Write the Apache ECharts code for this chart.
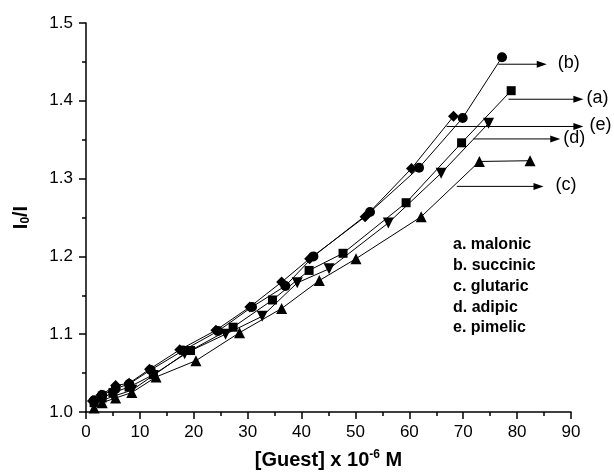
<!doctype html>
<html lang="en">
<head>
  <meta charset="utf-8">
  <title>I0/I vs Guest</title>
  <script src="https://cdn.jsdelivr.net/npm/echarts@6/dist/echarts.min.js"></script>
  <style>
    html, body { margin: 0; padding: 0; background: #fff; }
    #chart { width: 614px; height: 472px; }
  </style>
</head>
<body>
  <div id="chart"></div>
  <script>
    // [Guest] (x10^-6 M), I0/I
    var malonic = [[1.5,1.012],[3,1.018],[5,1.025],[8,1.032],[12.5,1.048],[19.4,1.079],[27.3,1.109],[34.6,1.144],[41.4,1.182],[47.7,1.204],[59.4,1.269],[69.7,1.346],[78.9,1.413]];
    var succinic = [[1.5,1.015],[3,1.022],[5.5,1.03],[8,1.036],[12,1.054],[18,1.079],[24.5,1.104],[30.8,1.135],[37,1.162],[42.2,1.2],[52.7,1.257],[61.8,1.314],[69.9,1.378],[77.2,1.456]];
    var glutaric = [[1.5,1.005],[3,1.012],[5.5,1.018],[8.5,1.025],[13,1.045],[20.4,1.066],[28.5,1.102],[36.3,1.133],[43.3,1.169],[50.1,1.197],[62.2,1.251],[73,1.322],[82.4,1.323]];
    var adipic = [[1.5,1.008],[3,1.015],[5,1.02],[8.5,1.028],[12.5,1.047],[18.3,1.075],[25.9,1.1],[32.7,1.123],[39.2,1.166],[45.1,1.184],[56.1,1.243],[65.9,1.307],[74.7,1.371]];
    var pimelic = [[1.2,1.014],[2.8,1.022],[5.5,1.034],[8,1.037],[11.8,1.055],[17.4,1.08],[24.1,1.105],[30.4,1.135],[36.3,1.167],[41.5,1.197],[51.8,1.251],[60.4,1.313],[68.2,1.38]];

    // label arrows: start, end (data units), label text and its gap after the tip
    var arrows = [
      { from: [78.4, 1.402], to: [92.3, 1.402], text: '(a)', gap: 3 },
      { from: [76.5, 1.447], to: [85.5, 1.447], text: '(b)', gap: 11 },
      { from: [68.8, 1.290], to: [84.9, 1.290], text: '(c)', gap: 12 },
      { from: [71.9, 1.351], to: [88.0, 1.351], text: '(d)', gap: 3 },
      { from: [66.9, 1.367], to: [92.3, 1.367], text: '(e)', gap: 6 }
    ];

    var legendLines = ['a. malonic', 'b. succinic', 'c. glutaric', 'd. adipic', 'e. pimelic'];

    var font = 'Liberation Sans, Arial, Helvetica, sans-serif';

    function mkSeries(name, data, symbol, size, rotate) {
      return {
        name: name,
        type: 'line',
        data: data,
        symbol: symbol,
        symbolSize: size,
        symbolRotate: rotate || 0,
        showAllSymbol: true,
        itemStyle: { color: '#000' },
        lineStyle: { color: '#000', width: 1 },
        emphasis: { disabled: true }
      };
    }

    var myChart = echarts.init(document.getElementById('chart'));

    myChart.setOption({
      animation: false,
      grid: { left: 86, right: 43, top: 23, bottom: 60, containLabel: false, outerBoundsMode: 'none' },
      xAxis: {
        type: 'value',
        min: 0, max: 90, interval: 10,
        name: '[Guest] x 10{sup|-6} M',
        nameLocation: 'middle',
        nameGap: 37,
        nameTextStyle: {
          fontSize: 20, fontWeight: 'bold', color: '#000', fontFamily: font,
          rich: { sup: { fontSize: 12, fontWeight: 'bold', verticalAlign: 'top', padding: [0, 0, 10, 0], fontFamily: font } }
        },
        axisLine: { lineStyle: { color: '#000', width: 1.5 } },
        axisTick: { show: true, inside: false, length: 7, lineStyle: { color: '#000', width: 1.5 } },
        minorTick: { show: true, splitNumber: 2, length: 4, lineStyle: { color: '#000', width: 1.5 } },
        axisLabel: { fontSize: 17, color: '#000', fontFamily: font, margin: 12 },
        splitLine: { show: false }
      },
      yAxis: {
        type: 'value',
        min: 1.0, max: 1.5, interval: 0.1,
        name: 'I{sub|0}/I',
        nameLocation: 'middle',
        nameGap: 54,
        nameRotate: 90,
        nameTextStyle: {
          fontSize: 20, fontWeight: 'bold', color: '#000', fontFamily: font,
          rich: { sub: { fontSize: 12, fontWeight: 'bold', verticalAlign: 'bottom', padding: [10, 0, 0, 0], fontFamily: font } }
        },
        axisLine: { show: true, lineStyle: { color: '#000', width: 1.5 } },
        axisTick: { show: true, inside: false, length: 7, lineStyle: { color: '#000', width: 1.5 } },
        minorTick: { show: true, splitNumber: 2, length: 4, lineStyle: { color: '#000', width: 1.5 } },
        axisLabel: { fontSize: 17, color: '#000', fontFamily: font, margin: 13, formatter: function (v) { return v.toFixed(1); } },
        splitLine: { show: false }
      },
      series: [
        mkSeries('malonic', malonic, 'rect', 9, 0),
        mkSeries('succinic', succinic, 'circle', 10, 0),
        mkSeries('glutaric', glutaric, 'triangle', 11, 0),
        mkSeries('adipic', adipic, 'triangle', 11, 180),
        mkSeries('pimelic', pimelic, 'diamond', 11, 0)
      ]
    });

    // legend text block and label arrows drawn on top
    var graphics = legendLines.map(function (t, i) {
      return {
        type: 'text',
        x: 453,
        y: 245 + i * 20.7,
        style: { text: t, fill: '#000', fontSize: 16, fontWeight: 'bold', fontFamily: font, align: 'left', verticalAlign: 'middle' }
      };
    });

    arrows.forEach(function (a) {
      var p0 = myChart.convertToPixel({ gridIndex: 0 }, a.from);
      var p1 = myChart.convertToPixel({ gridIndex: 0 }, a.to);
      graphics.push({
        type: 'line',
        shape: { x1: p0[0], y1: p0[1], x2: p1[0] - 6, y2: p1[1] },
        style: { stroke: '#000', lineWidth: 1 }
      });
      graphics.push({
        type: 'polygon',
        shape: { points: [[p1[0], p1[1]], [p1[0] - 10, p1[1] - 3.5], [p1[0] - 10, p1[1] + 3.5]] },
        style: { fill: '#000' }
      });
      graphics.push({
        type: 'text',
        x: p1[0] + a.gap,
        y: p1[1] - 1,
        style: { text: a.text, fill: '#000', fontSize: 18, fontFamily: font, align: 'left', verticalAlign: 'middle' }
      });
    });

    myChart.setOption({ graphic: graphics });
  </script>
</body>
</html>
